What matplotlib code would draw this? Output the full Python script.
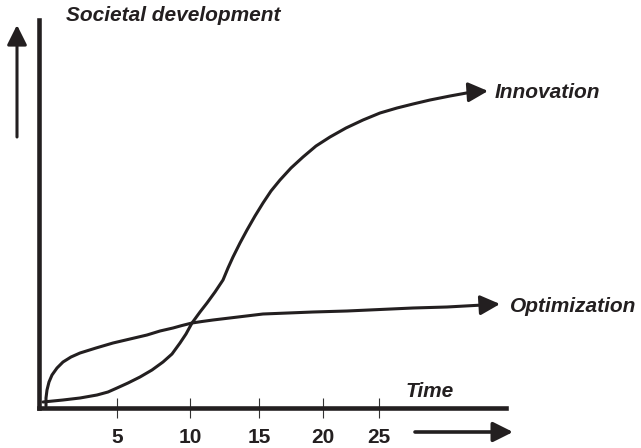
import matplotlib.pyplot as plt

# ── data (x = time axis units, y = development units) ──
innovation_t = [4, 14, 24, 41, 58, 69, 78, 89, 101, 113, 124, 133, 141, 147,
                153, 161, 168, 176, 184, 189, 194, 201, 208, 216, 224, 232,
                241, 252, 264, 277, 291, 307, 324, 341, 358, 374, 391, 411, 433]
innovation_v = [6, 7, 8, 10, 13, 16, 20, 25, 31, 38, 46, 54, 65, 74,
                85, 96, 105, 116, 128, 140, 151, 165, 178, 192, 205, 217,
                228, 240, 251, 262, 271, 280, 288, 295, 300, 304, 308, 312, 316]

optimization_t = [7, 7, 8, 10, 13, 18, 24, 32, 41, 57, 74, 91, 108, 121, 134,
                  143, 153, 163, 174, 199, 224, 249, 274, 308, 341, 374, 408, 444]
optimization_v = [2, 10, 18, 26, 33, 40, 46, 51, 55, 60, 65, 69, 73, 77, 80,
                  82.5, 85, 86.5, 88, 91, 94, 95, 96, 97, 98.5, 100, 101, 103]

tick_labels = ["5", "10", "15", "20", "25"]

# ── layout / style ──
tick_pos = [78, 151, 220, 284, 340]
INK = "#231f20"
FONT = "Liberation Sans"
W, H = 641, 448

fig = plt.figure(figsize=(W / 100, H / 100), dpi=100)
ax = fig.add_axes([39 / W, (H - 408) / H, (506 - 39) / W, (408 - 20) / H])
ax.set_xlim(0, 467)
ax.set_ylim(0, 388)

for side in ("top", "right"):
    ax.spines[side].set_visible(False)
for side in ("left", "bottom"):
    ax.spines[side].set_linewidth(3.3)
    ax.spines[side].set_color(INK)
    ax.spines[side].set_capstyle("projecting")

ax.set_yticks([])
ax.set_xticks(tick_pos, tick_labels)
ax.tick_params(axis="x", direction="inout", length=15, width=0.8,
               color="#333333", pad=7, labelsize=15, labelcolor=INK)
for lbl in ax.get_xticklabels():
    lbl.set_fontfamily(FONT)
    lbl.set_fontweight("bold")

# curves
line_kw = dict(color=INK, lw=2.2, solid_capstyle="round",
               solid_joinstyle="round", clip_on=False)
ax.plot(innovation_t, innovation_v, **line_kw)
ax.plot(optimization_t, optimization_v, **line_kw)


def arrow(tail, tip, lw=2.2):
    ax.annotate("", xy=tip, xytext=tail, annotation_clip=False,
                arrowprops=dict(arrowstyle="-|>,head_length=0.6,head_width=0.3",
                                mutation_scale=20, lw=lw, color=INK,
                                shrinkA=0, shrinkB=0))


# arrow heads at the curve ends
arrow((innovation_t[-1], innovation_v[-1]), (449, 317))
arrow((optimization_t[-1], optimization_v[-1]), (461, 104))

# free-standing direction arrows
arrow((376, -24), (474, -24), lw=2.6)
arrow((-22, 271), (-22, 383), lw=2.2)

text_kw = dict(fontsize=15, fontweight="bold", fontstyle="italic",
               fontfamily=FONT, color=INK, va="baseline", ha="left",
               clip_on=False)
ax.text(27, 387, "Societal development", **text_kw)
ax.text(456, 310, "Innovation", **text_kw)
ax.text(471, 96, "Optimization", **text_kw)
ax.text(367, 11, "Time", **text_kw)

fig.savefig("out.png", dpi=100)
